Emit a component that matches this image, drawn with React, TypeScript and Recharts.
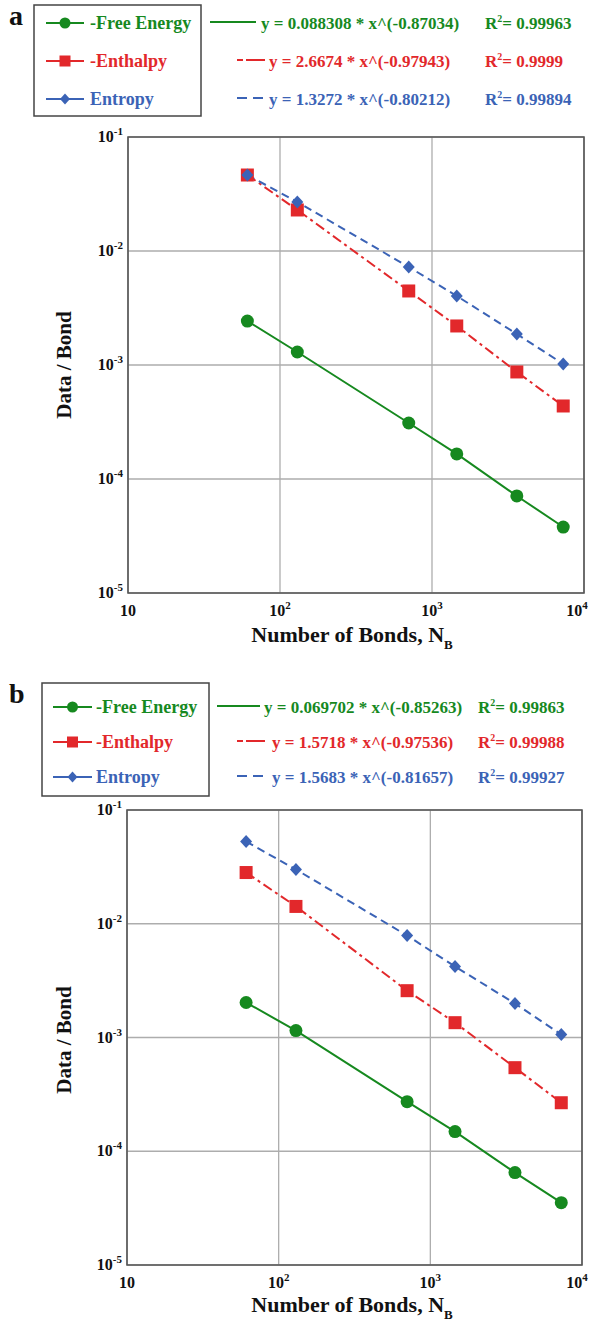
import { LineChart, Line, XAxis, YAxis, CartesianGrid, ReferenceArea } from 'recharts'

const GREEN = '#16891f'
const RED = '#e2282b'
const BLUE = '#3b63b6'
const FONT = '"Liberation Serif", "Times New Roman", serif'

// number of bonds (x) for each point, shared by both panels
const bonds = [61, 130, 703, 1455, 3615, 7300]

// panel a
const freeEnergyA = [2.43e-3, 1.3e-3, 3.1e-4, 1.66e-4, 7.1e-5, 3.79e-5]
const enthalpyA = [4.64e-2, 2.29e-2, 4.46e-3, 2.2e-3, 8.69e-4, 4.37e-4]
const entropyA = [4.64e-2, 2.69e-2, 7.24e-3, 4.03e-3, 1.87e-3, 1.02e-3]
const fitsA = ['y = 0.088308 * x^(-0.87034)', 'y = 2.6674 * x^(-0.97943)', 'y = 1.3272 * x^(-0.80212)']
const r2A = ['0.99963', '0.9999', '0.99894']

// panel b
const freeEnergyB = [2.03e-3, 1.15e-3, 2.73e-4, 1.49e-4, 6.49e-5, 3.53e-5]
const enthalpyB = [2.82e-2, 1.42e-2, 2.58e-3, 1.35e-3, 5.43e-4, 2.67e-4]
const entropyB = [5.28e-2, 3.0e-2, 7.87e-3, 4.21e-3, 1.99e-3, 1.06e-3]
const fitsB = ['y = 0.069702 * x^(-0.85263)', 'y = 1.5718 * x^(-0.97536)', 'y = 1.5683 * x^(-0.81657)']
const r2B = ['0.99863', '0.99988', '0.99927']

const seriesNames = ['-Free Energy', '-Enthalpy', 'Entropy']
const xTicks = [10, 100, 1000, 10000]
const xTickExps = ['', '2', '3', '4']
const yTicks = [1e-5, 1e-4, 1e-3, 1e-2, 1e-1]
const yTickExps = ['-5', '-4', '-3', '-2', '-1']

const toPoints = (ys: number[]) => bonds.map((x, i) => ({ x, y: ys[i] }))

function XTick(props: any) {
  const { x, y, index } = props
  const exp = xTickExps[index]
  return (
    <text x={x} y={y + 15} textAnchor="middle" fontFamily={FONT} fontWeight="bold" fontSize={16} fill="#111">
      10
      {exp && <tspan dy={-7} fontSize={11}>{exp}</tspan>}
    </text>
  )
}

function YTick(props: any) {
  const { x, y, index } = props
  return (
    <text x={x} y={y + 5} textAnchor="end" fontFamily={FONT} fontWeight="bold" fontSize={16} fill="#111">
      10
      <tspan dy={-7} fontSize={11}>{yTickExps[index]}</tspan>
    </text>
  )
}

const circleDot = (p: any) => <circle key={`c${p.index}`} cx={p.cx} cy={p.cy} r={6.5} fill={GREEN} />
const squareDot = (p: any) => <rect key={`s${p.index}`} x={p.cx - 6.5} y={p.cy - 6.5} width={13} height={13} fill={RED} />
const diamondDot = (p: any) => (
  <path key={`d${p.index}`} d={`M${p.cx},${p.cy - 6.5}L${p.cx + 6},${p.cy}L${p.cx},${p.cy + 6.5}L${p.cx - 6},${p.cy}Z`} fill={BLUE} />
)

function Panel({ free, enthalpy, entropy, height, margin }: any) {
  return (
    <LineChart width={597} height={height} margin={margin}>
      <CartesianGrid stroke="#adadad" strokeWidth={1.3} />
      <XAxis
        dataKey="x"
        type="number"
        scale="log"
        domain={[10, 10000]}
        ticks={xTicks}
        tick={<XTick />}
        tickLine={false}
        axisLine={false}
        height={30}
        allowDataOverflow
      />
      <XAxis
        xAxisId="top"
        orientation="top"
        type="number"
        scale="log"
        domain={[10, 10000]}
        ticks={xTicks}
        tick={false}
        axisLine={false}
        tickLine={{ stroke: '#555', strokeWidth: 1.5 }}
        tickSize={7}
        mirror
        height={0}
        allowDataOverflow
      />
      <YAxis
        dataKey="y"
        type="number"
        scale="log"
        domain={[1e-5, 1e-1]}
        ticks={yTicks}
        tick={<YTick />}
        tickLine={false}
        axisLine={false}
        tickSize={0}
        tickMargin={5}
        width={60}
        allowDataOverflow
      />
      <YAxis
        yAxisId="right"
        orientation="right"
        type="number"
        scale="log"
        domain={[1e-5, 1e-1]}
        ticks={yTicks}
        tick={false}
        axisLine={false}
        tickLine={{ stroke: '#555', strokeWidth: 1.5 }}
        tickSize={4}
        width={0}
        allowDataOverflow
      />
      <ReferenceArea x1={10} x2={10000} y1={1e-5} y2={1e-1} fill="none" stroke="#555" strokeWidth={1.6} />
      <Line data={toPoints(enthalpy)} dataKey="y" stroke={RED} strokeWidth={2} strokeDasharray="10 4 3 4" dot={squareDot} isAnimationActive={false} />
      <Line data={toPoints(entropy)} dataKey="y" stroke={BLUE} strokeWidth={2} strokeDasharray="8 5" dot={diamondDot} isAnimationActive={false} />
      <Line data={toPoints(free)} dataKey="y" stroke={GREEN} strokeWidth={2} dot={circleDot} isAnimationActive={false} />
    </LineChart>
  )
}

function LegendMarker({ i, x, y }: any) {
  if (i === 0) return <circle cx={x} cy={y} r={5.5} fill={GREEN} />
  if (i === 1) return <rect x={x - 5.5} y={y - 5.5} width={11} height={11} fill={RED} />
  return <path d={`M${x},${y - 5.5}L${x + 5},${y}L${x},${y + 5.5}L${x - 5},${y}Z`} fill={BLUE} />
}

const colors = [GREEN, RED, BLUE]
const dashes = [undefined, '6 3 18 0', '10 6']

function Overlay({ top, letter, box, rows, sample, textX, fits, r2, eqLines, eqX, r2X, yTitleY, xTitleY }: any) {
  return (
    <svg width={597} height={700} style={{ position: 'absolute', left: 0, top, pointerEvents: 'none' }}>
      <text x={9} y={box.y + 20} fontFamily={FONT} fontWeight="bold" fontSize={28} fill="#111">{letter}</text>
      <rect x={box.x} y={box.y} width={box.w} height={box.h} fill="none" stroke="#444" strokeWidth={1.5} />
      {rows.map((cy: number, i: number) => (
        <g key={i}>
          <line x1={sample[0]} x2={sample[1]} y1={cy} y2={cy} stroke={colors[i]} strokeWidth={2.2} />
          <LegendMarker i={i} x={(sample[0] + sample[1]) / 2} y={cy} />
          <text x={textX} y={cy + 6} fontFamily={FONT} fontWeight="bold" fontSize={18} fill={colors[i]}>{seriesNames[i]}</text>
          <line x1={eqLines[i][0]} x2={eqLines[i][1]} y1={cy - 1} y2={cy - 1} stroke={colors[i]} strokeWidth={2.2} strokeDasharray={dashes[i]} />
          <text x={eqX[i]} y={cy + 6} fontFamily={FONT} fontWeight="bold" fontSize={17} fill={colors[i]}>{fits[i]}</text>
          <text x={r2X} y={cy + 6} fontFamily={FONT} fontWeight="bold" fontSize={17} fill={colors[i]}>
            R<tspan dy={-7} fontSize={10}>2</tspan><tspan dy={7}>= {r2[i]}</tspan>
          </text>
        </g>
      ))}
      <text
        x={64}
        y={yTitleY}
        transform={`rotate(-90 64 ${yTitleY})`}
        textAnchor="middle"
        dominantBaseline="central"
        fontFamily={FONT}
        fontWeight="bold"
        fontSize={21}
        fill="#111"
      >
        Data / Bond
      </text>
      <text x={352} y={xTitleY} textAnchor="middle" fontFamily={FONT} fontWeight="bold" fontSize={22} fill="#111">
        Number of Bonds, N<tspan dy={7} fontSize={13}>B</tspan>
      </text>
    </svg>
  )
}

export default function App() {
  return (
    <div style={{ position: 'absolute', left: 0, top: 0, width: 597, height: 1329, background: '#fff' }}>
      <div style={{ position: 'absolute', left: 0, top: 0 }}>
        <Panel free={freeEnergyA} enthalpy={enthalpyA} entropy={entropyA} height={660} margin={{ top: 137, right: 13, bottom: 37, left: 68 }} />
      </div>
      <Overlay
        top={0}
        letter="a"
        box={{ x: 34, y: 5, w: 167, h: 111 }}
        rows={[23, 61, 99]}
        sample={[46, 84]}
        textX={90}
        fits={fitsA}
        r2={r2A}
        eqLines={[[210, 256], [237, 265], [237, 265]]}
        eqX={[261, 269, 269]}
        r2X={485}
        yTitleY={365}
        xTitleY={642}
      />
      <div style={{ position: 'absolute', left: 0, top: 670 }}>
        <Panel free={freeEnergyB} enthalpy={enthalpyB} entropy={entropyB} height={659} margin={{ top: 140, right: 15, bottom: 34, left: 67 }} />
      </div>
      <Overlay
        top={670}
        letter="b"
        box={{ x: 42, y: 13, w: 167, h: 113 }}
        rows={[37, 72, 107]}
        sample={[53, 92]}
        textX={96}
        fits={fitsB}
        r2={r2B}
        eqLines={[[217, 260], [237, 265], [237, 265]]}
        eqX={[264, 272, 272]}
        r2X={478}
        yTitleY={370}
        xTitleY={642}
      />
    </div>
  )
}
